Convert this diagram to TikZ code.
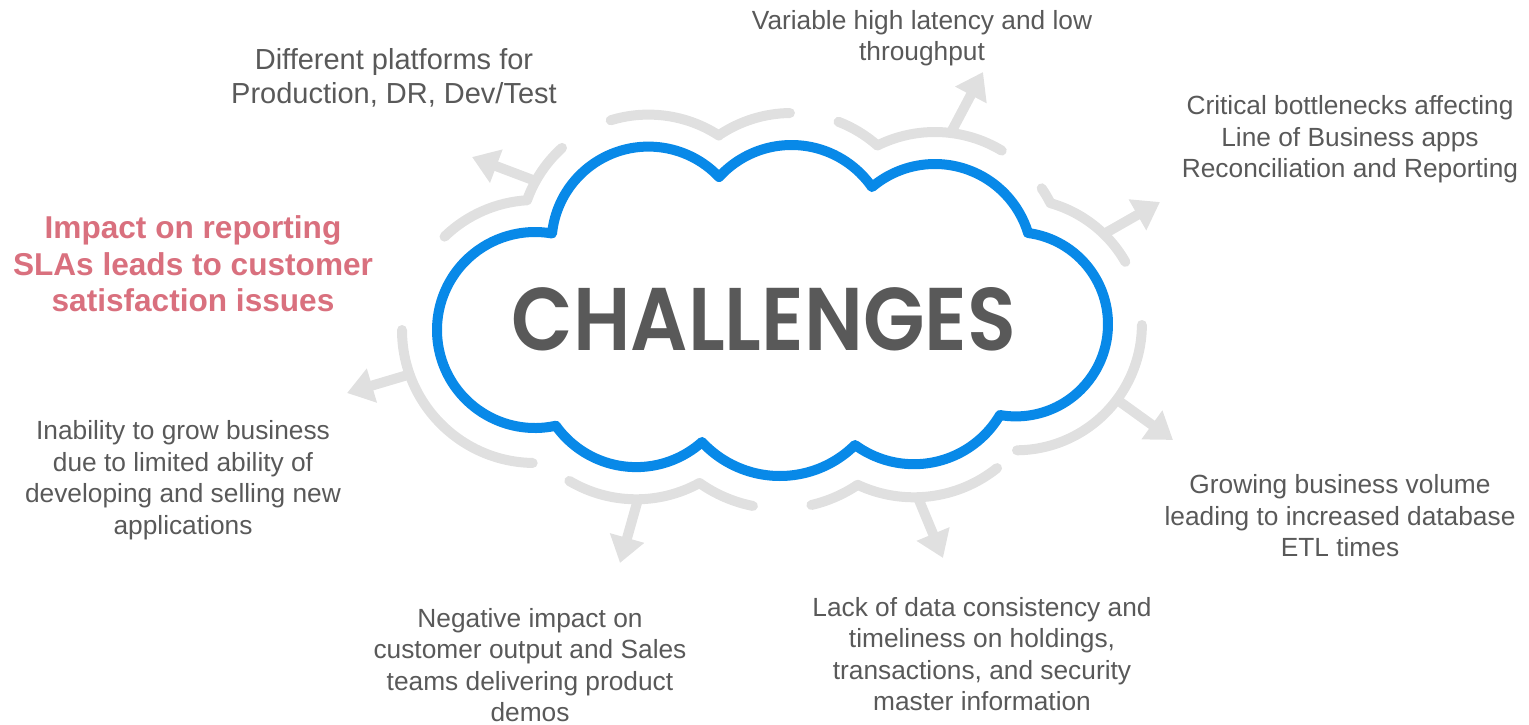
\documentclass[tikz,border=0pt]{standalone}
\usepackage{fontspec}
\setmainfont{Liberation Sans}
\newfontfamily\chalfont{Poppins}[BoldFont={* SemiBold}]
\usetikzlibrary{arrows.meta}
\definecolor{cloudblue}{HTML}{0889E8}
\definecolor{arcgray}{HTML}{E0E0E0}
\definecolor{txtgray}{HTML}{595959}
\definecolor{alertred}{HTML}{D9707E}
\begin{document}
\begin{tikzpicture}[x=1pt,y=-1pt,
  cloudline/.style={draw=cloudblue,line width=10pt,line cap=round,line join=round},
  grayarc/.style={draw=arcgray,line width=10pt,line cap=round,line join=round},
  grayarrow/.style={draw=arcgray,line width=10pt,-{Triangle[length=26pt,width=34pt]}},
  label/.style={text=txtgray,font=\fontsize{26.3}{31.5}\selectfont,align=center,inner sep=0pt},
  biglabel/.style={text=txtgray,font=\fontsize{29}{33.5}\selectfont,align=center,inner sep=0pt},
  alert/.style={text=alertred,font=\fontsize{31.6}{36.5}\selectfont\bfseries,align=center,inner sep=0pt},
  title/.style={text=txtgray,font=\fontsize{89}{100}\selectfont\chalfont\bfseries,inner sep=0pt}
]
\useasboundingbox (0,0) rectangle (1529,725);

% cloud outline: eight circular lobes
\draw[cloudline]
  ([shift={(535,330)}]77.7:98) arc[start angle=77.7,end angle=280,radius=98]
  -- ([shift={(648.5,243.6)}]186.3:97) arc[start angle=186.3,end angle=316.6,radius=97]
  -- ([shift={(791.5,243)}]222.3:98) arc[start angle=222.3,end angle=325.2,radius=98]
  -- ([shift={(934.9,261.4)}]229.8:97.4) arc[start angle=229.8,end angle=343,radius=97.4]
  -- ([shift={(1015.9,324.3)}]277.5:92.1) arc[start angle=277.5,end angle=459.9,radius=92.1]
  -- ([shift={(913.9,364.3)}]30.5:99.9) arc[start angle=30.5,end angle=126.1,radius=99.9]
  -- ([shift={(779.9,369.6)}]45.1:106.4) arc[start angle=45.1,end angle=137.1,radius=106.4]
  -- ([shift={(636.2,368.3)}]48.2:98.8) arc[start angle=48.2,end angle=144.3,radius=98.8]
  -- cycle;

\node[title,xscale=0.9] (ch) at (764,319) {CHALLENGES};

% gray arcs around the cloud
\draw[grayarc] ([shift={(535,330)}]225.9:130) arc[start angle=225.9,end angle=266.5,radius=130]
  -- ([shift={(648.5,243.6)}]199.6:129) arc[start angle=199.6,end angle=227.9,radius=129];
\draw[grayarc] ([shift={(648.5,243.6)}]252.96:129) arc[start angle=252.96,end angle=303.1,radius=129]
  -- ([shift={(791.5,243)}]236.1:130) arc[start angle=236.1,end angle=269.3,radius=130];
\draw[grayarc] ([shift={(791.5,243)}]291.2:130) arc[start angle=291.2,end angle=311.4,radius=130]
  -- ([shift={(934.9,261.4)}]243.6:129.4) arc[start angle=243.6,end angle=301.1,radius=129.4];
\draw[grayarc] ([shift={(934.9,261.4)}]325.6:129.4) arc[start angle=325.6,end angle=333.2,radius=129.4]
  -- ([shift={(1015.9,324.3)}]285.9:126) arc[start angle=285.9,end angle=330.3,radius=126];
\draw[grayarc] ([shift={(1015.9,324.3)}]0.3:126) arc[start angle=0.3,end angle=89.5,radius=126];
\draw[grayarc] ([shift={(913.9,364.3)}]51.3:133) arc[start angle=51.3,end angle=115,radius=133]
  -- ([shift={(779.9,369.6)}]56:139) arc[start angle=56,end angle=76.9,radius=139];
\draw[grayarc] ([shift={(636.2,368.3)}]120.7:131) arc[start angle=120.7,end angle=61.1,radius=131]
  -- ([shift={(779.9,369.6)}]125.3:139) arc[start angle=125.3,end angle=101.2,radius=139];
\draw[grayarc] ([shift={(535,330)}]180:133) arc[start angle=180,end angle=91,radius=133];

% arrows
\coordinate (s1) at (535.7,181.1); \coordinate (t1) at (472,157);
\coordinate (s2) at (950.7,133);   \coordinate (t2) at (983,72);
\coordinate (s3) at (1102.1,235);  \coordinate (t3) at (1160,202);
\coordinate (s4) at (1116.9,399.6);\coordinate (t4) at (1173,440);
\coordinate (s5) at (917.8,497.2); \coordinate (t5) at (943,558);
\coordinate (s6) at (638,499.3);   \coordinate (t6) at (620,563);
\coordinate (s7) at (409.6,374.4); \coordinate (t7) at (347,393);
\draw[grayarrow] (s1) -- (t1);
\draw[grayarrow] (s2) -- (t2);
\draw[grayarrow] (s3) -- (t3);
\draw[grayarrow] (s4) -- (t4);
\draw[grayarrow] (s5) -- (t5);
\draw[grayarrow] (s6) -- (t6);
\draw[grayarrow] (s7) -- (t7);

% labels
\node[biglabel] (n1) at (394,78) {Different platforms for\\Production, DR, Dev/Test};
\node[label] (n2) at (922,38) {Variable high latency and low\\throughput};
\node[label] (n3) at (1350,139.5) {Critical bottlenecks affecting\\Line of Business apps\\Reconciliation and Reporting};
\node[alert] (n4) at (193,264) {Impact on reporting\\SLAs leads to customer\\satisfaction issues};
\node[label] (n5) at (183,480) {Inability to grow business\\due to limited ability of\\developing and selling new\\applications};
\node[label] (n6) at (530,665) {Negative impact on\\customer output and Sales\\teams delivering product\\demos};
\node[label] (n7) at (982,654) {Lack of data consistency and\\timeliness on holdings,\\transactions, and security\\master information};
\node[label] (n8) at (1340,516) {Growing business volume\\leading to increased database\\ETL times};
\end{tikzpicture}
\end{document}
